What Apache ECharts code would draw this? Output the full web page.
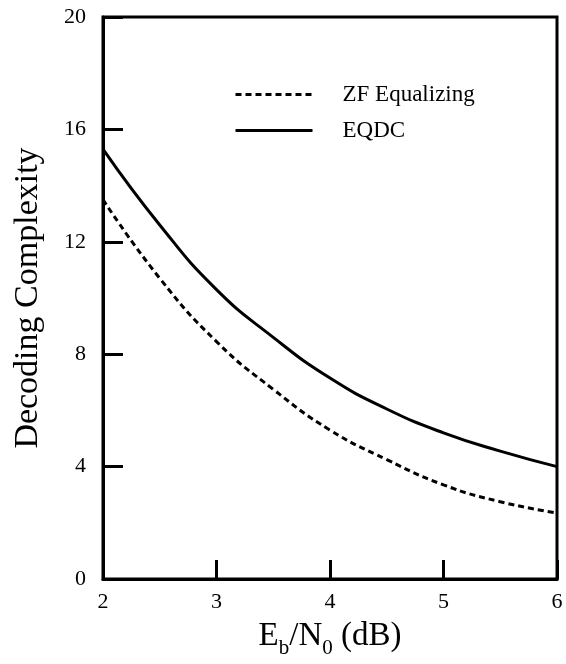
<!DOCTYPE html>
<html>
<head>
<meta charset="utf-8">
<script src="https://cdn.jsdelivr.net/npm/echarts@6/dist/echarts.min.js"></script>
<style>html,body{margin:0;padding:0;background:#fff}#c{width:566px;height:664px}</style>
</head>
<body>
<div id="c"></div>
<script>
const xValues = [2, 2.5, 3, 3.5, 4, 4.5, 5, 5.5, 6];
const zfValues = [13.5, 10.7, 8.45, 6.75, 5.3, 4.25, 3.35, 2.75, 2.35];
const eqdcValues = [15.3, 12.6, 10.3, 8.6, 7.15, 6.05, 5.2, 4.55, 4.0];
const seriesNames = ['ZF Equalizing', 'EQDC'];
const yTicks = [0, 4, 8, 12, 16, 20];

const FONT = '"Liberation Serif", "Times New Roman", serif';
const chart = echarts.init(document.getElementById('c'), null, {renderer: 'canvas'});
chart.setOption({
  animation: false,
  backgroundColor: '#fff',
  grid: {left: 103, right: 9, top: 17, bottom: 80, show: true, borderColor: '#000', borderWidth: 3},
  legend: {
    orient: 'vertical', left: 229, top: 78,
    itemWidth: 77, itemHeight: 14, itemGap: 13,
    itemStyle: {opacity: 0},
    lineStyle: {width: 3},
    textStyle: {fontFamily: FONT, fontSize: 23, color: '#000', padding: [0, 0, 0, 25]},
    data: seriesNames
  },
  xAxis: {
    type: 'value', min: 2, max: 6, interval: 1,
    name: '{m|E}{s|b}{m|/N}{s|0}{m| (dB)}', nameLocation: 'middle', nameGap: 38,
    nameTextStyle: {fontFamily: FONT, color: '#000', rich: {
      m: {fontFamily: FONT, fontSize: 33, color: '#000', verticalAlign: 'bottom', lineHeight: 36},
      s: {fontFamily: FONT, fontSize: 21, color: '#000', verticalAlign: 'bottom', lineHeight: 26, padding: [0,0,-6,0]}
    }},
    axisLine: {show: true, lineStyle: {color: '#000', width: 3}},
    axisTick: {show: true, inside: true, length: 19, lineStyle: {color: '#000', width: 3}},
    axisLabel: {fontFamily: FONT, fontSize: 22, color: '#000', margin: 12},
    splitLine: {show: false}
  },
  yAxis: {
    type: 'value', min: yTicks[0], max: yTicks[yTicks.length - 1], interval: 4,
    name: 'Decoding Complexity', nameLocation: 'middle', nameGap: 58,
    nameTextStyle: {fontFamily: FONT, fontSize: 34, color: '#000'},
    axisLine: {show: true, lineStyle: {color: '#000', width: 3}},
    axisTick: {show: true, inside: true, length: 20, lineStyle: {color: '#000', width: 3}},
    axisLabel: {fontFamily: FONT, fontSize: 22, color: '#000', margin: 17},
    splitLine: {show: false}
  },
  series: [
    {
      name: seriesNames[0], type: 'line', smooth: true, symbol: 'none',
      data: xValues.map((x, i) => [x, zfValues[i]]),
      lineStyle: {color: '#000', width: 3, type: [6, 4]},
      itemStyle: {color: '#000'}
    },
    {
      name: seriesNames[1], type: 'line', smooth: true, symbol: 'none',
      data: xValues.map((x, i) => [x, eqdcValues[i]]),
      lineStyle: {color: '#000', width: 3, type: 'solid'},
      itemStyle: {color: '#000'}
    }
  ]
});
</script>
</body>
</html>
